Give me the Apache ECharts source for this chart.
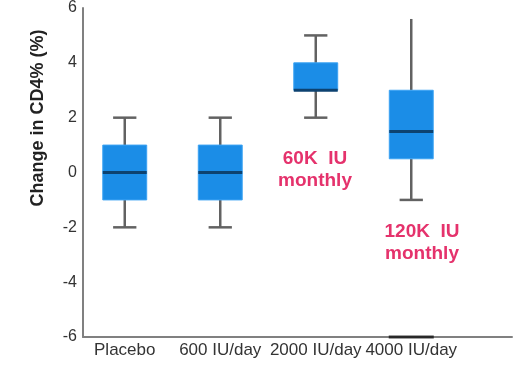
<!DOCTYPE html>
<html>
<head>
<meta charset="utf-8">
<script src="https://cdn.jsdelivr.net/npm/echarts@6/dist/echarts.min.js"></script>
<style>html,body{margin:0;padding:0;background:#fff}#c{width:515px;height:368px}</style>
</head>
<body>
<div id="c"></div>
<script>
const categories = ['Placebo', '600 IU/day', '2000 IU/day', '4000 IU/day'];
const lowWhisker = [-2, -2, 2, -1];
const q1Values = [-1, -1, 3, 0.5];
const medianValues = [0, 0, 3, 1.5];
const q3Values = [1, 1, 4, 3];
const highWhisker = [2, 2, 5, 5.6];
const outlierValues = [null, null, null, -6];
const yMin = -6, yMax = 6, yInterval = 2;
const yAxisTitle = 'Change in CD4% (%)';
const annotations = ['60K  IU\nmonthly', '120K  IU\nmonthly'];

const boxData = categories.map((c, i) => [i, lowWhisker[i], q1Values[i], medianValues[i], q3Values[i], highWhisker[i]]);
const outlierData = outlierValues.map((v, i) => v == null ? null : [i, v]).filter(d => d);
// style: the last group's upper whisker is drawn without an end cap in the reference
const noUpperCap = {3: true};

const chart = echarts.init(document.getElementById('c'), null, {renderer: 'canvas'});
const FONT = '"Liberation Sans", Arial, sans-serif';
const pink = '#e5326c';

chart.setOption({
  backgroundColor: '#ffffff',
  animation: false,
  grid: [
    {left: 77, top: 8, bottom: 31, width: 382},
    {left: 83, top: 8, bottom: 31, right: 3}
  ],
  xAxis: [
    {
      type: 'category', gridIndex: 0, data: categories, boundaryGap: true,
      axisLine: {show: false}, axisTick: {show: false},
      axisLabel: {interval: 0, fontSize: 17, color: '#333', margin: 5, fontFamily: FONT}
    },
    {
      type: 'value', gridIndex: 1, min: 0, max: 1,
      axisLine: {show: true, onZero: false, lineStyle: {color: '#808080', width: 2}},
      axisTick: {show: false}, axisLabel: {show: false}, splitLine: {show: false}
    }
  ],
  yAxis: [
    {type: 'value', gridIndex: 0, min: yMin, max: yMax, interval: yInterval, show: false},
    {
      type: 'value', gridIndex: 1, min: yMin, max: yMax, interval: yInterval,
      axisLine: {show: true, onZero: false, lineStyle: {color: '#808080', width: 2}},
      axisTick: {show: false}, splitLine: {show: false},
      axisLabel: {fontSize: 16, color: '#333', margin: 6, fontFamily: FONT}
    }
  ],
  series: [
    {
      type: 'custom',
      xAxisIndex: 0, yAxisIndex: 0,
      data: boxData,
      encode: {x: 0, y: [1, 2, 3, 4, 5]},
      z: 5,
      renderItem: function (params, api) {
        const i = api.value(0);
        const pL = api.coord([i, api.value(1)]);
        const pQ1 = api.coord([i, api.value(2)]);
        const pM = api.coord([i, api.value(3)]);
        const pQ3 = api.coord([i, api.value(4)]);
        const pH = api.coord([i, api.value(5)]);
        const bw = api.size([1, 0])[0] * 0.46;
        const cap = bw * 0.53;
        const cx = pM[0];
        const wStyle = {stroke: '#626262', lineWidth: 2.5};
        const children = [
          {type: 'line', shape: {x1: cx, y1: pH[1], x2: cx, y2: pQ3[1]}, style: wStyle},
          {type: 'line', shape: {x1: cx, y1: pQ1[1], x2: cx, y2: pL[1]}, style: wStyle},
          {type: 'line', shape: {x1: cx - cap / 2, y1: pL[1], x2: cx + cap / 2, y2: pL[1]}, style: wStyle}
        ];
        if (!noUpperCap[params.dataIndex]) {
          children.push({type: 'line', shape: {x1: cx - cap / 2, y1: pH[1], x2: cx + cap / 2, y2: pH[1]}, style: wStyle});
        }
        children.push(
          {type: 'rect', shape: {x: cx - bw / 2, y: pQ3[1], width: bw, height: pQ1[1] - pQ3[1]},
            style: {fill: '#1b8de7', stroke: '#3ba3f3', lineWidth: 1}},
          {type: 'line', shape: {x1: cx - bw / 2, y1: pM[1], x2: cx + bw / 2, y2: pM[1]},
            style: {stroke: '#0d4270', lineWidth: 3}}
        );
        return {type: 'group', children: children};
      }
    },
    {
      type: 'scatter',
      xAxisIndex: 0, yAxisIndex: 0,
      data: outlierData,
      symbol: 'rect', symbolSize: [45, 3],
      itemStyle: {color: '#111111'},
      z: 6
    }
  ],
  graphic: [
    {type: 'text', x: 38, y: 118, rotation: Math.PI / 2,
      style: {text: yAxisTitle, font: 'bold 18px ' + FONT, fill: '#222', textAlign: 'center', textVerticalAlign: 'middle'}},
    {type: 'text', x: 315, y: 148,
      style: {text: annotations[0], font: 'bold 19px ' + FONT, fill: pink, textAlign: 'center', textVerticalAlign: 'top', lineHeight: 22}},
    {type: 'text', x: 422, y: 221,
      style: {text: annotations[1], font: 'bold 19px ' + FONT, fill: pink, textAlign: 'center', textVerticalAlign: 'top', lineHeight: 22}}
  ]
});
</script>
</body>
</html>
